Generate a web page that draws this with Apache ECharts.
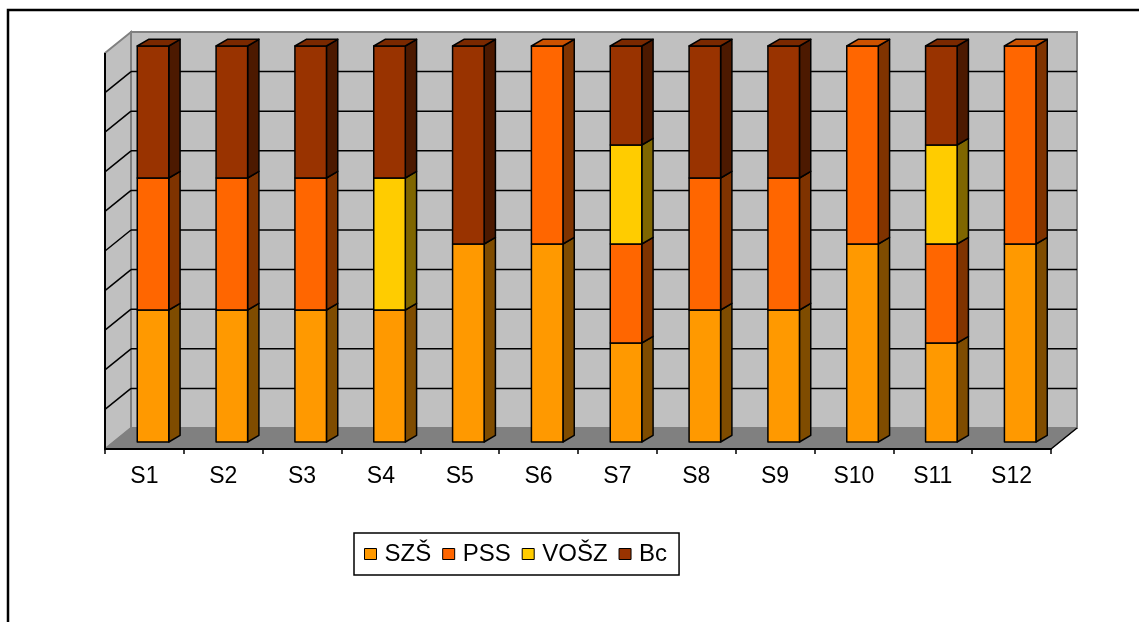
<!DOCTYPE html>
<html>
<head>
<meta charset="utf-8">
<script src="https://cdn.jsdelivr.net/npm/echarts@6/dist/echarts.min.js"></script>
<style>
html, body { margin: 0; padding: 0; background: #fff; }
#chart { width: 1139px; height: 622px; }
</style>
</head>
<body>
<div id="chart"></div>
<script>
// categories and counts per group (shown as 100% stacked columns)
const categories = ['S1', 'S2', 'S3', 'S4', 'S5', 'S6', 'S7', 'S8', 'S9', 'S10', 'S11', 'S12'];
const seriesNames = ['SZŠ', 'PSS', 'VOŠZ', 'Bc'];
const szs  = [1, 1, 1, 1, 1, 1, 1, 1, 1, 1, 1, 1];
const pss  = [1, 1, 1, 0, 0, 1, 1, 1, 1, 1, 1, 1];
const vosz = [0, 0, 0, 1, 0, 0, 1, 0, 0, 0, 1, 0];
const bc   = [1, 1, 1, 1, 1, 0, 1, 1, 1, 0, 1, 0];
const seriesValues = [szs, pss, vosz, bc];

// front / side / top shades
const colors = [
  { front: '#FF9900', side: '#7F4C00', top: '#CC7A00' },
  { front: '#FF6600', side: '#7F3300', top: '#CC5200' },
  { front: '#FFCC00', side: '#7F6600', top: '#CCA300' },
  { front: '#993300', side: '#4C1900', top: '#7A2900' }
];

const BACK = { x: 26, y: -21 };        // back wall offset from front plane
const BAR_POS = { x: 8.6, y: -7 };     // bar front plane offset
const BAR_DEPTH = { x: 11.3, y: -6.7 };
const FONT = '"Liberation Sans", Arial, sans-serif';

// build stacked percentage segments
const stacked = seriesValues.map(() => []);
categories.forEach(function (c, ci) {
  let total = 0;
  seriesValues.forEach(v => { total += v[ci]; });
  let lastIdx = -1;
  seriesValues.forEach((v, si) => { if (v[ci] > 0) lastIdx = si; });
  let base = 0;
  seriesValues.forEach(function (v, si) {
    if (v[ci] > 0) {
      const h = v[ci] / total * 100;
      stacked[si].push([ci, base, base + h, si === lastIdx ? 1 : 0]);
      base += h;
    }
  });
});

function makeBarRenderer(col) {
  return function (params, api) {
    const cat = api.value(0);
    const p0 = api.coord([cat, api.value(1)]);
    const p1 = api.coord([cat, api.value(2)]);
    const band = api.size([1, 0])[0];
    const w = band * 0.4;
    const cx = p0[0] + BAR_POS.x;
    const l = cx - w / 2, r = cx + w / 2;
    const b = p0[1] + BAR_POS.y, t = p1[1] + BAR_POS.y;
    const dx = BAR_DEPTH.x, dy = BAR_DEPTH.y;
    const stroke = { stroke: '#000', lineWidth: 1.5, lineJoin: 'round' };
    const children = [
      { type: 'polygon', shape: { points: [[r, b], [r + dx, b + dy], [r + dx, t + dy], [r, t]] },
        style: Object.assign({ fill: col.side }, stroke) },
      { type: 'rect', shape: { x: l, y: t, width: w, height: b - t },
        style: Object.assign({ fill: col.front }, stroke) }
    ];
    if (api.value(3)) {
      children.push({ type: 'polygon', shape: { points: [[l, t], [l + dx, t + dy], [r + dx, t + dy], [r, t]] },
        style: Object.assign({ fill: col.top }, stroke) });
    }
    return { type: 'group', children: children };
  };
}

function renderWalls(params, api) {
  const cs = params.coordSys;
  const fx0 = cs.x, fx1 = cs.x + cs.width, fy0 = cs.y, fy1 = cs.y + cs.height;
  const bx0 = fx0 + BACK.x, bx1 = fx1 + BACK.x, by0 = fy0 + BACK.y, by1 = fy1 + BACK.y;
  const children = [
    { type: 'rect', shape: { x: bx0, y: by0, width: bx1 - bx0, height: by1 - by0 },
      style: { fill: '#C0C0C0', stroke: '#808080', lineWidth: 2 } },
    { type: 'polygon', shape: { points: [[fx0, fy0], [bx0, by0], [bx0, by1], [fx0, fy1]] },
      style: { fill: '#C0C0C0', stroke: '#808080', lineWidth: 2 } },
    { type: 'polygon', shape: { points: [[fx0, fy1], [bx0, by1], [bx1, by1], [fx1, fy1]] },
      style: { fill: '#808080', stroke: '#808080', lineWidth: 1 } },
    { type: 'line', shape: { x1: fx1, y1: fy1, x2: bx1, y2: by1 }, style: { stroke: '#000', lineWidth: 1.5 } },
    { type: 'line', shape: { x1: fx0, y1: fy0, x2: fx0, y2: fy1 }, style: { stroke: '#000', lineWidth: 2 } }
  ];
  for (let v = 10; v < 100; v += 10) {
    const y = api.coord([0, v])[1];
    children.push({ type: 'line', shape: { x1: bx0, y1: y + BACK.y, x2: bx1, y2: y + BACK.y },
      style: { stroke: '#000', lineWidth: 1.5 } });
    children.push({ type: 'line', shape: { x1: fx0, y1: y, x2: bx0, y2: y + BACK.y },
      style: { stroke: '#000', lineWidth: 1.5 } });
  }
  return { type: 'group', children: children };
}

const chart = echarts.init(document.getElementById('chart'), null, { renderer: 'canvas' });

const series = [{
  type: 'custom',
  name: 'walls',
  renderItem: renderWalls,
  data: [[0, 0]],
  silent: true,
  z: 1
}];
seriesNames.forEach(function (name, si) {
  series.push({
    type: 'custom',
    name: name,
    renderItem: makeBarRenderer(colors[si]),
    itemStyle: { color: colors[si].front, borderColor: '#000', borderWidth: 1 },
    encode: { x: 0, y: [1, 2] },
    data: stacked[si],
    z: 2
  });
});

chart.setOption({
  animation: false,
  graphic: [{
    type: 'rect',
    shape: { x: 8, y: 10, width: 1300, height: 800 },
    style: { fill: 'none', stroke: '#000', lineWidth: 2.5 },
    z: 0
  }],
  grid: { left: 105, top: 53, width: 946, height: 396 },
  xAxis: {
    type: 'category',
    data: categories,
    boundaryGap: true,
    axisLine: { show: true, lineStyle: { color: '#000', width: 2 } },
    axisTick: { show: true, length: 5, lineStyle: { color: '#000', width: 1.5 } },
    axisLabel: { color: '#000', fontSize: 23, fontFamily: FONT, margin: 16 },
    splitLine: { show: false },
    z: 5
  },
  yAxis: {
    type: 'value',
    min: 0,
    max: 100,
    interval: 10,
    show: false
  },
  legend: {
    data: seriesNames,
    left: 354,
    top: 533,
    orient: 'horizontal',
    icon: 'rect',
    itemWidth: 12,
    itemHeight: 11,
    itemGap: 11,
    padding: [9, 12, 9, 10],
    borderColor: '#000',
    borderWidth: 1.5,
    itemStyle: { borderColor: '#000', borderWidth: 1 },
    textStyle: { color: '#000', fontSize: 24, fontFamily: FONT, padding: [0, 0, 0, 3] },
    selectedMode: false
  },
  series: series
});
</script>
</body>
</html>
